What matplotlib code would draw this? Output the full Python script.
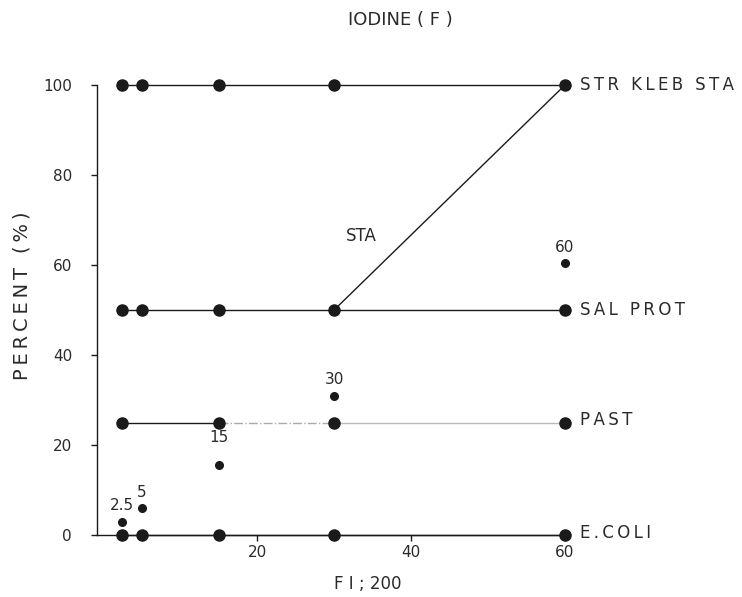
import numpy as np
import matplotlib.pyplot as plt

# dilution (x) and percent killed (y) for each organism group
dose = [2.5, 5, 15, 30, 60]
str_kleb = [100, 100, 100, 100, 100]
sal_prot = [50, 50, 50, 50, 50]
past_x = [2.5, 15, 30, 60]
past = [25, 25, 25, 25]
ecoli = [0, 0, 0, 0, 0]
sta_x = [30, 60]
sta = [50, 100]

# single points, labelled by their dilution
single_x = [2.5, 5, 15, 30, 60]
single_y = [3, 6, 15.5, 31, 60.5]
single_lab = ['2.5', '5', '15', '30', '60']

ink = '#1a1a1a'
txt = '#2a2a2a'
plt.rcParams['font.family'] = 'DejaVu Sans'


def spaced(s):
    # stencil lettering is wide: put a thin space between letters
    return '\u2009'.join(s)


fig = plt.figure(figsize=(7.42, 5.97), dpi=100)
ax = fig.add_axes([97/742, 1 - 535/597, (565 - 97)/742, (535 - 85)/597])
ax.set_xlim(-0.8, 60)
ax.set_ylim(0, 100)

lw = 1.0
ax.plot(dose, str_kleb, '-o', color=ink, lw=lw, ms=8, clip_on=False)
ax.plot(dose, sal_prot, '-o', color=ink, lw=lw, ms=8, clip_on=False)
ax.plot(dose, ecoli, '-o', color=ink, lw=lw, ms=8, clip_on=False)
ax.plot(sta_x, sta, '-', color=ink, lw=lw)
# PAST line is faint past 15
ax.plot(past_x[:2], past[:2], '-', color=ink, lw=lw)
ax.plot(past_x[1:3], past[1:3], '-.', color='#aaaaaa', lw=lw)
ax.plot(past_x[2:], past[2:], '-', color='#bbbbbb', lw=lw)
ax.plot(past_x, past, 'o', color=ink, ms=8, clip_on=False)

ax.plot(single_x, single_y, 'o', color=ink, ms=5.5, clip_on=False)
for x, y, s in zip(single_x, single_y, single_lab):
    if s == '15':
        ax.text(x, y + 4.5, s, ha='center', va='bottom', fontsize=11, color=txt)
    else:
        ax.text(x, y + 1.8, s, ha='center', va='bottom', fontsize=11, color=txt)

fs = 12
ax.text(62, 100, spaced('STR KLEB STA'), va='center', fontsize=fs, color=txt)
ax.text(62, 50, spaced('SAL PROT'), va='center', fontsize=fs, color=txt)
ax.text(62, 25.5, spaced('PAST'), va='center', fontsize=fs, color=txt)
ax.text(62, 0.5, spaced('E.COLI'), va='center', fontsize=fs, color=txt)
ax.text(33.5, 66.5, 'STA', ha='center', va='center', fontsize=12, color=txt)

for side in ['top', 'right']:
    ax.spines[side].set_visible(False)
for side in ['left', 'bottom']:
    ax.spines[side].set_color(ink)
    ax.spines[side].set_linewidth(1.0)

ax.set_xticks([20, 40, 60])
ax.set_yticks([0, 20, 40, 60, 80, 100])
ax.tick_params(axis='both', color=ink, labelcolor=txt, labelsize=11, length=4, width=1)
ax.tick_params(axis='y', pad=14)

ax.set_xlabel('F I ; 200', fontsize=12, color=txt)
ax.xaxis.set_label_coords((368 - 97) / (565 - 97), -(575 - 535) / (535 - 85))
ax.set_ylabel(spaced('PERCENT (%)'), fontsize=14, color=txt, va='center')
ax.yaxis.set_label_coords(-(97 - 22) / (565 - 97), (535 - 296) / (535 - 85))
fig.text(400/742, 1 - 20/597, 'IODINE ( F )', ha='center', va='center', fontsize=13, color=txt)

fig.savefig('out.png', dpi=100)
